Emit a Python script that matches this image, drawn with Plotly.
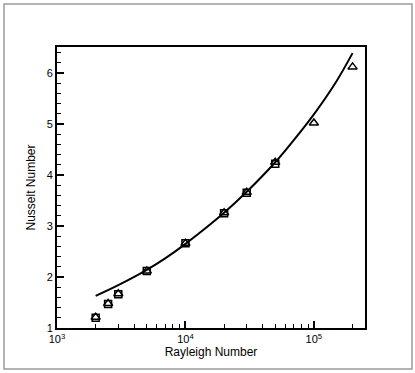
import plotly.graph_objects as go

ra_sq = [2000, 2500, 3000, 5000, 10000, 20000, 30000, 50000]
nu_sq = [1.20, 1.47, 1.66, 2.12, 2.66, 3.25, 3.65, 4.22]
ra_tri = [2000, 2500, 3000, 5000, 10000, 20000, 30000, 50000, 100000, 200000]
nu_tri = [1.21, 1.48, 1.67, 2.12, 2.66, 3.26, 3.66, 4.25, 5.02, 6.12]

# correlation curve
ra_line = [2000, 3000, 5000, 7000, 10000, 20000, 30000, 50000, 70000, 100000, 150000, 200000]
nu_line = [1.63, 1.84, 2.14, 2.37, 2.65, 3.26, 3.67, 4.25, 4.69, 5.19, 5.84, 6.39]

x_ticks = [1e3, 1e4, 1e5]
x_labels = ["10<sup>3</sup>", "10<sup>4</sup>", "10<sup>5</sup>"]

W, H = 415, 373
L, R, T, B = 57, 50, 47, 45
pw, ph = W - L - R, H - T - B

fig = go.Figure()
fig.add_trace(go.Scatter(x=ra_line, y=nu_line, mode="lines", line=dict(color="black", width=2, shape="spline"),
                         showlegend=False))
fig.add_trace(go.Scatter(x=ra_sq, y=nu_sq, mode="markers", showlegend=False,
                         marker=dict(symbol="square-open", size=7, color="black", line=dict(width=1.5))))
fig.add_trace(go.Scatter(x=ra_tri, y=nu_tri, mode="markers", showlegend=False,
                         marker=dict(symbol="triangle-up-open", size=8, color="black", line=dict(width=1.5))))

# outer grey frame
fig.add_shape(type="rect", xref="paper", yref="paper",
              x0=(4 - L) / pw, x1=(412 - L) / pw, y0=-(369 - T - ph) / ph, y1=1 + (T - 4) / ph,
              line=dict(color="#9a9a9a", width=1.5))

font = "Liberation Sans, Arial"
axis_common = dict(showline=True, linecolor="black", linewidth=2, mirror=True, ticks="inside",
                   tickcolor="black", tickwidth=2, ticklen=7, showgrid=False, zeroline=False,
                   automargin=False, tickfont=dict(family=font, size=11, color="black"))

fig.update_xaxes(type="log", range=[3, 5.398], tickvals=x_ticks, ticktext=x_labels,
                 minor=dict(ticks="inside", ticklen=4, tickcolor="black", tickwidth=1,
                            tickvals=[2e3, 3e3, 4e3, 5e3, 6e3, 7e3, 8e3, 9e3,
                                      2e4, 3e4, 4e4, 5e4, 6e4, 7e4, 8e4, 9e4, 2e5], showgrid=False),
                 title=dict(text="Rayleigh Number", font=dict(family=font, size=12, color="black"),
                            standoff=3),
                 **axis_common)
fig.update_yaxes(range=[1, 6.51], tickvals=[1, 2, 3, 4, 5, 6],
                 minor=dict(ticks="inside", ticklen=4, tickcolor="black", tickwidth=1, dtick=0.2, showgrid=False),
                 title=dict(text="Nusselt Number", font=dict(family=font, size=12, color="black"),
                            standoff=8),
                 **axis_common)

fig.update_layout(width=W, height=H, margin=dict(l=L, r=R, t=T, b=B),
                  plot_bgcolor="white", paper_bgcolor="white")
fig.write_html("out.html", config={"displayModeBar": False},
               post_script="document.body.style.margin='0px';")
